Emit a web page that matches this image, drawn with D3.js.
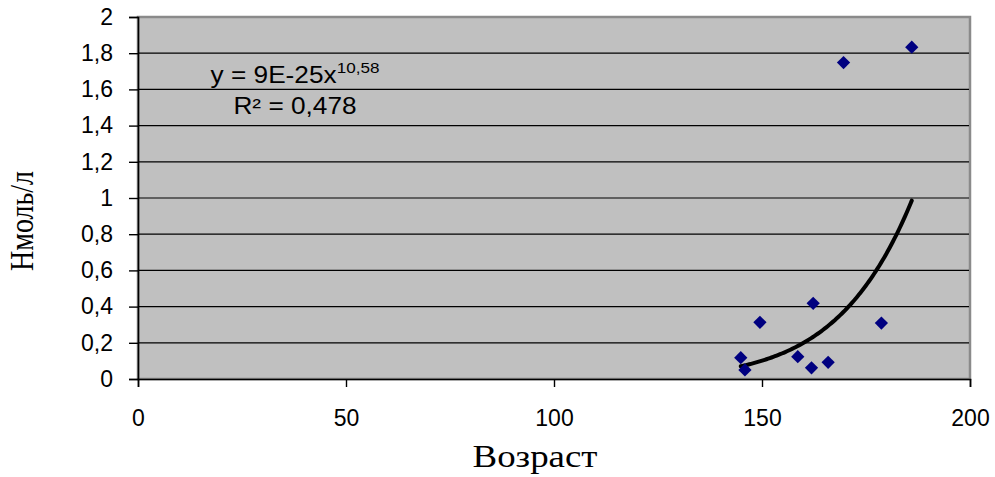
<!DOCTYPE html>
<html>
<head>
<meta charset="utf-8">
<script src="https://cdn.jsdelivr.net/npm/d3@7/dist/d3.min.js"></script>
<style>
  html, body { margin: 0; padding: 0; background: #ffffff; }
  svg { display: block; }
</style>
</head>
<body>
<svg id="chart" width="995" height="477"></svg>
<script>
// Age (x) and concentration in nmol/l (y) for each observation
const ages = [144.9, 145.9, 149.5, 158.6, 162.3, 161.9, 165.9, 169.6, 178.7, 186.0];
const levels = [0.118, 0.05, 0.313, 0.123, 0.418, 0.062, 0.092, 1.748, 0.309, 1.833];

// Axis ticks
const xTicks = [0, 50, 100, 150, 200];
const yTicks = [0, 0.2, 0.4, 0.6, 0.8, 1, 1.2, 1.4, 1.6, 1.8, 2];

// Power trend y = a * x^b
const trendCoef = 9.4e-25;
const trendExp = 10.584;
const rSquared = 0.478;

const xTitle = "Возраст";
const yTitle = "Нмоль/л";

const svg = d3.select("#chart");
const plot = { left: 138, right: 970, top: 17, bottom: 379 };

const x = d3.scaleLinear().domain([0, 200]).range([plot.left, plot.right]);
const y = d3.scaleLinear().domain([0, 2]).range([plot.bottom, plot.top]);

const commaNum = v => String(v).replace(".", ",");
const sans = "'Liberation Sans', Arial, sans-serif";
const serif = "'Liberation Serif', 'Times New Roman', serif";

// Plot area
svg.append("rect")
  .attr("x", plot.left).attr("y", plot.top)
  .attr("width", plot.right - plot.left).attr("height", plot.bottom - plot.top)
  .attr("fill", "#c0c0c0")
  .attr("stroke", "#8a8a8a").attr("stroke-width", 2.5);

// Horizontal gridlines
svg.append("g")
  .selectAll("line")
  .data(yTicks.filter(d => d > 0 && d < 2))
  .join("line")
  .attr("x1", plot.left).attr("x2", plot.right - 1)
  .attr("y1", d => y(d)).attr("y2", d => y(d))
  .attr("stroke", "#000").attr("stroke-width", 1.2);

// Y axis
const yAxis = svg.append("g")
  .attr("transform", `translate(${plot.left},0)`)
  .call(d3.axisLeft(y).tickValues(yTicks).tickSize(9).tickPadding(16)
    .tickFormat(d => commaNum(d)));
yAxis.select(".domain").attr("stroke", "#000").attr("stroke-width", 1.6);
yAxis.selectAll(".tick line").attr("stroke", "#000").attr("stroke-width", 1.4);
yAxis.selectAll(".tick text")
  .attr("font-family", sans).attr("font-size", 23).attr("fill", "#000");

// X axis
const xAxis = svg.append("g")
  .attr("transform", `translate(0,${plot.bottom})`)
  .call(d3.axisBottom(x).tickValues(xTicks).tickSize(8).tickPadding(23));
xAxis.select(".domain").attr("stroke", "#000").attr("stroke-width", 1.6);
xAxis.selectAll(".tick line").attr("stroke", "#000").attr("stroke-width", 1.4);
xAxis.selectAll(".tick text")
  .attr("font-family", sans).attr("font-size", 23).attr("fill", "#000");

// Trend curve over the observed age range
const [xMin, xMax] = d3.extent(ages);
const trendPts = d3.range(0, 101).map(i => {
  const xv = xMin + (xMax - xMin) * i / 100;
  return [xv, trendCoef * Math.pow(xv, trendExp)];
});
svg.append("path")
  .datum(trendPts)
  .attr("fill", "none")
  .attr("stroke", "#000")
  .attr("stroke-width", 4)
  .attr("stroke-linecap", "round")
  .attr("d", d3.line().x(d => x(d[0])).y(d => y(d[1])));

// Diamond markers
const diamond = d3.symbol().type(d3.symbolSquare).size(88);
svg.append("g")
  .selectAll("path")
  .data(ages.map((a, i) => [a, levels[i]]))
  .join("path")
  .attr("d", diamond)
  .attr("transform", d => `translate(${x(d[0])},${y(d[1])}) rotate(45)`)
  .attr("fill", "#000080");

// Trend equation and R² (slightly widened lettering)
const coefStr = d3.format(".0e")(trendCoef).toUpperCase();
const label = svg.append("g")
  .attr("transform", "translate(295,0) scale(1.14,1)")
  .attr("font-family", sans).attr("fill", "#000");
const eq = label.append("text")
  .attr("x", 0).attr("y", 83)
  .attr("text-anchor", "middle")
  .attr("font-size", 23);
eq.append("tspan").text(`y = ${coefStr}x`);
eq.append("tspan").attr("dy", -10).attr("font-size", 15)
  .text(commaNum(d3.format(".2f")(trendExp)));
label.append("text")
  .attr("x", 0).attr("y", 114)
  .attr("text-anchor", "middle")
  .attr("font-size", 23)
  .text(`R² = ${commaNum(rSquared)}`);

// Axis titles
svg.append("text")
  .attr("transform", "translate(535,467) scale(1.19,1)")
  .attr("text-anchor", "middle")
  .attr("font-family", serif)
  .attr("font-size", 31).attr("fill", "#000")
  .text(xTitle);

svg.append("text")
  .attr("transform", "translate(33,221) scale(1.24,1) rotate(-90)")
  .attr("text-anchor", "middle")
  .attr("font-family", serif)
  .attr("font-size", 28).attr("fill", "#000")
  .text(yTitle);
</script>
</body>
</html>
